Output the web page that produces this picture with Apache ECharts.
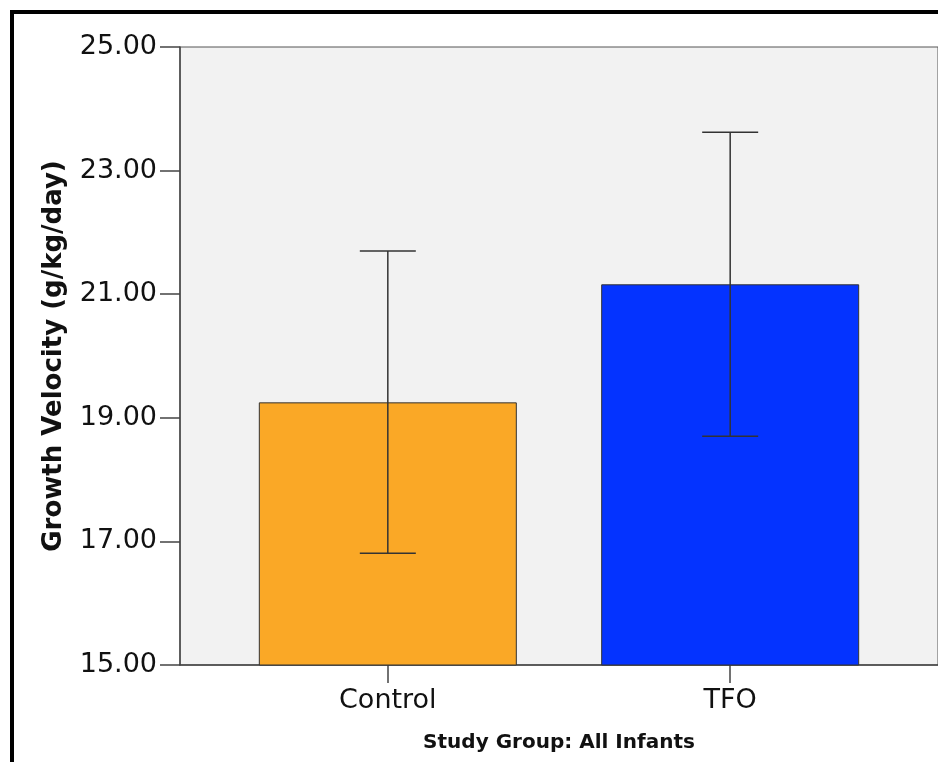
<!DOCTYPE html>
<html>
<head>
<meta charset="utf-8">
<script src="https://cdn.jsdelivr.net/npm/echarts@6/dist/echarts.min.js"></script>
<style>
html,body{margin:0;padding:0;background:#fff;}
#chart{width:938px;height:762px;}
</style>
</head>
<body>
<div id="chart"></div>
<script>
// ---- data ----
var categories = ['Control', 'TFO'];
var means = [19.25, 21.16];
var lowerCI = [16.81, 18.70];
var upperCI = [21.70, 23.62];
var barColors = ['#FAA826', '#0433FF'];
var yTicks = [15, 17, 19, 21, 23, 25];
var yTitle = 'Growth Velocity (g/kg/day)';
var xTitle = 'Study Group: All Infants';

var barData = categories.map(function (c, i) {
  return { value: [i, means[i]], itemStyle: { color: barColors[i] } };
});
var errData = categories.map(function (c, i) {
  return [i, lowerCI[i], upperCI[i]];
});
var catIdx = categories.map(function (c, i) { return i; });

var chart = echarts.init(document.getElementById('chart'), null, { renderer: 'canvas' });
var fontFam = '"DejaVu Sans", "Lucida Grande", sans-serif';
chart.setOption({
  animation: false,
  backgroundColor: '#ffffff',
  graphic: [{
    type: 'rect',
    shape: { x: 12, y: 12, width: 980, height: 800 },
    style: { fill: 'none', stroke: '#000', lineWidth: 4 },
    z: 100
  }],
  grid: {
    left: 180, top: 47, width: 761, height: 618,
    show: true, backgroundColor: '#F2F2F2',
    borderColor: '#555', borderWidth: 1,
    containLabel: false
  },
  xAxis: {
    type: 'value',
    min: -0.607, max: 1.607,
    name: xTitle,
    nameLocation: 'middle',
    nameGap: 68,
    nameTextStyle: { fontFamily: fontFam, fontSize: 20, fontWeight: 'bold', color: '#111' },
    axisLine: { show: true, onZero: false, lineStyle: { color: '#444', width: 1.5 } },
    axisTick: { show: true, length: 18, customValues: catIdx, lineStyle: { color: '#444', width: 1.5 } },
    axisLabel: {
      customValues: catIdx,
      margin: 22,
      fontFamily: fontFam, fontSize: 27, color: '#111',
      formatter: function (v) { return categories[Math.round(v)]; }
    },
    splitLine: { show: false }
  },
  yAxis: {
    type: 'value',
    min: yTicks[0], max: yTicks[yTicks.length - 1], interval: 2,
    name: yTitle,
    nameLocation: 'middle',
    nameGap: 113,
    nameTextStyle: { fontFamily: fontFam, fontSize: 26, fontWeight: 'bold', color: '#111' },
    axisLine: { show: true, onZero: false, lineStyle: { color: '#444', width: 1.5 } },
    axisTick: { show: true, length: 20, lineStyle: { color: '#444', width: 1.5 } },
    axisLabel: {
      margin: 23,
      fontFamily: fontFam, fontSize: 27, color: '#111',
      formatter: function (v) { return v.toFixed(2); }
    },
    splitLine: { show: false }
  },
  series: [{
    type: 'bar',
    data: barData,
    barWidth: 258,
    clip: true,
    itemStyle: { borderColor: '#333', borderWidth: 1 }
  }, {
    type: 'custom',
    data: errData,
    z: 5,
    renderItem: function (params, api) {
      var x = api.value(0);
      var lo = api.coord([x, api.value(1)]);
      var hi = api.coord([x, api.value(2)]);
      var cap = 28;
      var st = { stroke: '#333', lineWidth: 1.5 };
      return {
        type: 'group',
        children: [
          { type: 'line', shape: { x1: lo[0], y1: lo[1], x2: hi[0], y2: hi[1] }, style: st },
          { type: 'line', shape: { x1: lo[0] - cap, y1: lo[1], x2: lo[0] + cap, y2: lo[1] }, style: st },
          { type: 'line', shape: { x1: hi[0] - cap, y1: hi[1], x2: hi[0] + cap, y2: hi[1] }, style: st }
        ]
      };
    }
  }]
});
</script>
</body>
</html>
